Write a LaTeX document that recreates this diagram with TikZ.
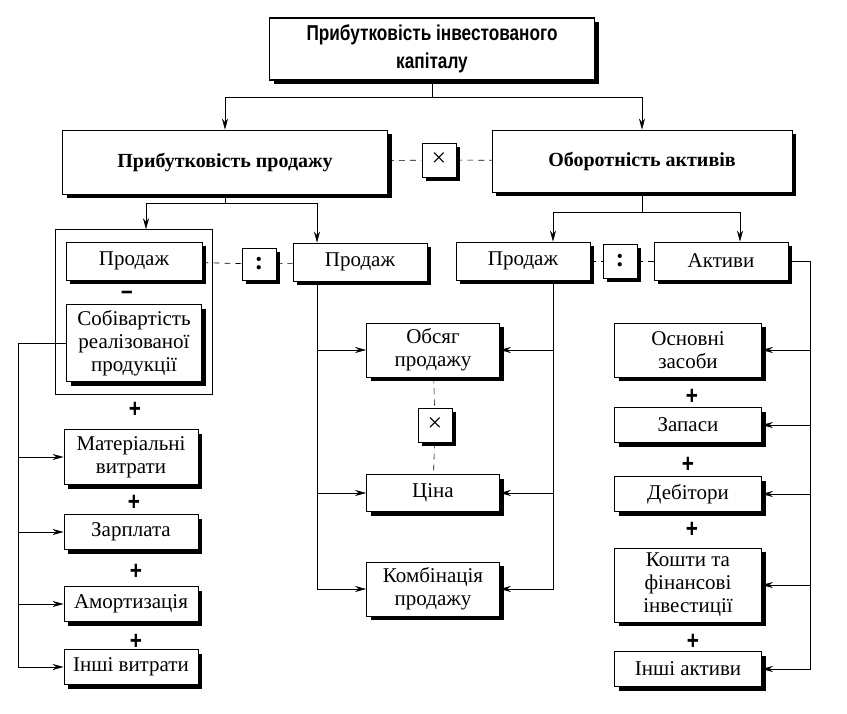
\documentclass[tikz,border=0pt]{standalone}
\usepackage{fontspec}
\setmainfont{Liberation Serif}
\newfontfamily\headfont[FakeStretch=0.8]{Liberation Sans}
\usetikzlibrary{arrows.meta,shadows,fit}

\begin{document}
\begin{tikzpicture}[x=1pt,y=-1pt]
  \newcommand{\Xleft}[0]{ 131 }
  \newcommand{\Xmid}[0]{ 433 }
  \newcommand{\Xright}[0]{ 688 }
  \newcommand{\Xlbus}[0]{ 18 }
  \newcommand{\Xrbus}[0]{ 810 }

  \tikzstyle{edge}  = [semithick,draw=black]
  \tikzstyle{dedge} = [semithick,->,>={Stealth[length=11pt,width=6pt]},draw=black]
  \tikzstyle{link}  = [semithick,dash pattern=on 6pt off 5pt,draw=black]
  \tikzstyle{block}=[
    rectangle,
    draw=black,
    fill=white,
    thick,
    anchor=center,
    align=center,
    inner sep=0pt,
    font=\fontsize{21}{23}\selectfont,
    drop shadow={shadow xshift=4pt,shadow yshift=-4pt,fill=black,opacity=1},
  ]
  \tikzstyle{op}=[
    block,
    minimum width=34pt,
    minimum height=34pt,
    font=\fontsize{26}{26}\selectfont,
  ]
  \tikzstyle{sign}=[
    inner sep=0pt,
    font=\headfont\bfseries\fontsize{26}{26}\selectfont,
  ]

  \useasboundingbox (0,0) rectangle (847,713);

  % return on invested capital
  \node[
    block,
    very thick,
    minimum width=325pt,
    minimum height=62pt,
    font=\headfont\bfseries\fontsize{21.5}{28}\selectfont,
  ] (roi) at (432, 49) {Прибутковість інвестованого\\капіталу};

  % return on sales
  \node[
    block,
    minimum width=325pt,
    minimum height=64pt,
    font=\bfseries\fontsize{20}{23}\selectfont,
  ] (ros) at (225, 162) {Прибутковість продажу};
  \node[op] (mul top) at (439, 160) {×};

  % asset turnover
  \node[
    block,
    minimum width=300pt,
    minimum height=62pt,
    font=\bfseries\fontsize{20}{23}\selectfont,
  ] (ato) at (642, 161) {Оборотність активів};

  % sales and assets
  \node[block, minimum width=136pt, minimum height=38pt] (sales a) at (134, 261) {Продаж};
  \node[op, minimum height=32pt] (div a) at (259, 264) {\textbf{:}};
  \node[block, minimum width=134pt, minimum height=38pt] (sales b) at (360, 262) {Продаж};
  \node[block, minimum width=134pt, minimum height=38pt] (sales c) at (523, 261) {Продаж};
  \node[op] (div b) at (620, 261) {\textbf{:}};
  \node[block, minimum width=134pt, minimum height=38pt] (assets) at (721, 261) {Активи};

  \coordinate (sales b in)  at ([xshift=-43pt]sales b.north);
  \coordinate (sales b out) at ([xshift=-43pt]sales b.south);
  \coordinate (sales c in)  at ([xshift=30pt]sales c.north);
  \coordinate (sales c out) at ([xshift=30pt]sales c.south);
  \coordinate (assets in)   at ([xshift=19pt]assets.north);

  % costs
  \node[block, minimum width=135pt, minimum height=77pt] (cost) at (134, 343) {Собівартість\\реалізованої\\продукції};
  \node[sign] (minus a) at (127, 295) {–};
  \node[draw, thick, fit=(sales a)(cost), inner xsep=10pt, inner ysep=12pt] (group) {};

  \node[sign] (plus a) at (135, 410) {+};
  \node[block, minimum width=134pt, minimum height=55pt] (mat) at (\Xleft, 457) {Матеріальні\\витрати};
  \node[sign] (plus b) at (134, 503) {+};
  \node[block, minimum width=134pt, minimum height=35pt] (wage) at (\Xleft, 532) {Зарплата};
  \node[sign] (plus c) at (136, 572) {+};
  \node[block, minimum width=134pt, minimum height=35pt] (amort) at (\Xleft, 604) {Амортизація};
  \node[sign] (plus d) at (136, 642) {+};
  \node[block, minimum width=134pt, minimum height=35pt] (other cost) at (\Xleft, 667) {Інші витрати};

  % sales factors
  \node[block, minimum width=133pt, minimum height=54pt] (volume) at (\Xmid, 350) {Обсяг\\продажу};
  \node[op] (mul mid) at (435, 425) {×};
  \node[block, minimum width=133pt, minimum height=37pt] (price) at (\Xmid, 493) {Ціна};
  \node[block, minimum width=133pt, minimum height=54pt] (mix) at (\Xmid, 589) {Комбінація\\продажу};

  % assets
  \node[block, minimum width=147pt, minimum height=54pt] (fixed) at (\Xright, 350) {Основні\\засоби};
  \node[sign] (plus e) at (692, 397) {+};
  \node[block, minimum width=147pt, minimum height=35pt] (stock) at (\Xright, 425) {Запаси};
  \node[sign] (plus f) at (688, 465) {+};
  \node[block, minimum width=147pt, minimum height=35pt] (debt) at (\Xright, 494) {Дебітори};
  \node[sign] (plus g) at (692, 530) {+};
  \node[block, minimum width=147pt, minimum height=74pt] (cash) at (\Xright, 585) {Кошти та\\фінансові\\інвестиції};
  \node[sign] (plus h) at (693, 642) {+};
  \node[block, minimum width=147pt, minimum height=35pt] (other asset) at (\Xright, 669) {Інші активи};

  \coordinate (lbus) at (\Xlbus, 0);
  \coordinate (rbus) at (\Xrbus, 0);

  % wiring
  \draw[dedge] (roi.south) -- ++(0,17) -| (ros.north);
  \draw[dedge] (roi.south) -- ++(0,17) -| (ato.north);

  \draw[dedge] (ros.south) -- ++(0,9) -| ([xshift=12pt]group.north);
  \draw[dedge] (ros.south) -- ++(0,9) -| (sales b in);
  \draw[dedge] (ato.south) -- ++(0,20) -| (sales c in);
  \draw[dedge] (ato.south) -- ++(0,20) -| (assets in);

  \draw[link] (ros) -- (mul top);
  \draw[link] (mul top) -- (ato);
  \draw[link] (sales a) -- (div a);
  \draw[link] (div a) -- (sales b);
  \draw[link] (sales c) -- (div b);
  \draw[link] (div b) -- (assets);
  \draw[link] (volume) -- (mul mid);
  \draw[link] (mul mid) -- (price);

  \draw[dedge] (sales b out) |- (volume.west);
  \draw[dedge] (sales b out) |- (price.west);
  \draw[dedge] (sales b out) |- (mix.west);
  \draw[dedge] (sales c out) |- (volume.east);
  \draw[dedge] (sales c out) |- (price.east);
  \draw[dedge] (sales c out) |- (mix.east);

  \draw[dedge] (cost.west) -| (lbus |- mat.west) -- (mat.west);
  \draw[dedge] (cost.west) -| (lbus |- wage.west) -- (wage.west);
  \draw[dedge] (cost.west) -| (lbus |- amort.west) -- (amort.west);
  \draw[dedge] (cost.west) -| (lbus |- other cost.west) -- (other cost.west);

  \draw[dedge] (assets.east) -| (rbus |- fixed.east) -- (fixed.east);
  \draw[dedge] (assets.east) -| (rbus |- stock.east) -- (stock.east);
  \draw[dedge] (assets.east) -| (rbus |- debt.east) -- (debt.east);
  \draw[dedge] (assets.east) -| (rbus |- cash.east) -- (cash.east);
  \draw[dedge] (assets.east) -| (rbus |- other asset.east) -- (other asset.east);
\end{tikzpicture}
\end{document}
